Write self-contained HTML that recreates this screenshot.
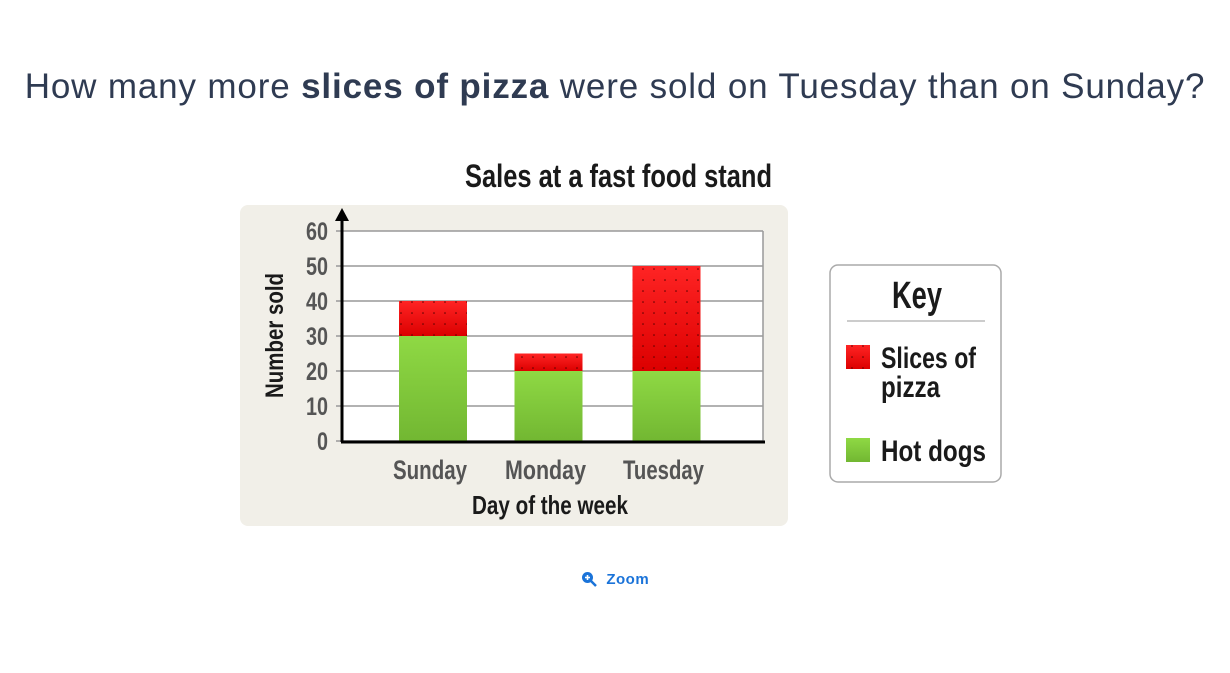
<!DOCTYPE html>
<html><head><meta charset="utf-8">
<style>
body{margin:0;width:1230px;height:673px;background:#fff;position:relative;overflow:hidden;font-family:"Liberation Sans",sans-serif}
.q{position:absolute;left:0;width:1230px;top:67px;text-align:center;font-size:35px;color:#2f3b52;letter-spacing:0.85px;white-space:nowrap}
.n{font-family:"Liberation Sans",sans-serif;font-weight:bold}
</style></head><body>
<div class="q">How many more <b>slices of pizza</b> were sold on Tuesday than on Sunday?</div>
<svg width="1230" height="673" style="position:absolute;left:0;top:0">
<defs>
<linearGradient id="gr" x1="0" y1="0" x2="0" y2="1"><stop offset="0" stop-color="#8fd944"/><stop offset="1" stop-color="#72b732"/></linearGradient>
<linearGradient id="rd" x1="0" y1="0" x2="0" y2="1"><stop offset="0" stop-color="#ff2424"/><stop offset="1" stop-color="#dc0000"/></linearGradient>
<pattern id="dots" width="11" height="11" patternUnits="userSpaceOnUse"><rect width="11" height="11" fill="none"/><circle cx="5" cy="5" r="0.8" fill="#5a0000"/></pattern>
</defs>
<rect x="240" y="205" width="548" height="321" rx="8" fill="#f1efe8"/>
<text x="465" y="187" textLength="307" lengthAdjust="spacingAndGlyphs" class="n" font-size="32" fill="#1a1a1a">Sales at a fast food stand</text>
<g id="plot"></g>
<text transform="translate(283,398) rotate(-90)" textLength="125" lengthAdjust="spacingAndGlyphs" class="n" font-size="25" fill="#1a1a1a">Number sold</text>
<text x="472" y="514" textLength="156" lengthAdjust="spacingAndGlyphs" class="n" font-size="26" fill="#1a1a1a">Day of the week</text>
<g>
<rect x="830" y="265" width="171" height="217" rx="8" fill="#fff" stroke="#aaa" stroke-width="1.5"/>
<text x="892" y="308" textLength="50" lengthAdjust="spacingAndGlyphs" class="n" font-size="38" fill="#1a1a1a">Key</text>
<line x1="847" y1="321" x2="985" y2="321" stroke="#bbb" stroke-width="1.5"/>
<rect x="846" y="345" width="24" height="24" fill="url(#rd)"/>
<rect x="846" y="345" width="24" height="24" fill="url(#dots)"/>
<text x="881" y="368" textLength="95" lengthAdjust="spacingAndGlyphs" class="n" font-size="30" fill="#1a1a1a">Slices of</text>
<text x="881" y="397" textLength="59" lengthAdjust="spacingAndGlyphs" class="n" font-size="30" fill="#1a1a1a">pizza</text>
<rect x="846" y="438" width="24" height="24" fill="url(#gr)"/>
<text x="881" y="461" textLength="105" lengthAdjust="spacingAndGlyphs" class="n" font-size="30" fill="#1a1a1a">Hot dogs</text>
</g>
</svg>
<div style="position:absolute;left:581px;top:571px;color:#1a73d9;font-size:15px;font-weight:bold;letter-spacing:0.5px"><svg width="16" height="16" style="vertical-align:-3px"><circle cx="6.5" cy="6.5" r="5.5" fill="#1a73d9"/><line x1="10" y1="10" x2="15" y2="15" stroke="#1a73d9" stroke-width="2.5"/><line x1="4" y1="6.5" x2="9" y2="6.5" stroke="#fff" stroke-width="1.6"/><line x1="6.5" y1="4" x2="6.5" y2="9" stroke="#fff" stroke-width="1.6"/></svg>&nbsp; Zoom</div>
<script>
const categories=["Sunday","Monday","Tuesday"];
const hotDogs=[30,20,20];
const pizza=[10,5,30];
const yTicks=[0,10,20,30,40,50,60];
const NS="http://www.w3.org/2000/svg";
const g=document.getElementById('plot');
const x0=342,x1=763,yTop=231,yBot=441,yMax=60;
const y=v=>yBot-(v/yMax)*(yBot-yTop);
const centers=[433,548.5,666.5];
const labelW=[74,81,81];
const bw=68;
function mk(t,a){const e=document.createElementNS(NS,t);for(const k in a)e.setAttribute(k,a[k]);g.appendChild(e);return e;}
mk('rect',{x:x0,y:yTop,width:x1-x0,height:yBot-yTop,fill:'#fff'});
yTicks.forEach(v=>{
 const l=mk('line',{x1:x0-6,x2:x1,y1:y(v),y2:y(v),stroke:'#999','stroke-width':1.5});
 
 
 const s=String(v);
 const t=mk('text',{x:x0-14-11*s.length,y:y(v)+9,textLength:11*s.length,lengthAdjust:'spacingAndGlyphs','font-size':25,fill:'#555',class:'n'});
 t.textContent=s;
 
 
});
mk('line',{x1:x1,x2:x1,y1:yTop,y2:yBot,stroke:'#999','stroke-width':1.5});
categories.forEach((c,i)=>{
 const cx=centers[i];
 const h=mk('rect',{x:cx-bw/2,y:y(hotDogs[i]),width:bw,height:yBot-y(hotDogs[i]),fill:'url(#gr)'});
 
 
 const top=hotDogs[i]+pizza[i];
 const p=mk('rect',{x:cx-bw/2,y:y(top),width:bw,height:y(hotDogs[i])-y(top),fill:'url(#rd)'});
 
 
 mk('rect',{x:cx-bw/2,y:y(top),width:bw,height:y(hotDogs[i])-y(top),fill:'url(#dots)'});
 const t=mk('text',{x:cx-3-labelW[i]/2,y:479,textLength:labelW[i],lengthAdjust:'spacingAndGlyphs','font-size':27,fill:'#555',class:'n'});
 t.textContent=c;
 
 
});
mk('line',{x1:x0,x2:x0,y1:yBot+1,y2:yTop-14,stroke:'#000','stroke-width':3});
mk('line',{x1:x0-1,x2:x1+2,y1:yBot+1,y2:yBot+1,stroke:'#000','stroke-width':3});
mk('polygon',{points:`${x0-7},${yTop-10} ${x0+7},${yTop-10} ${x0},${yTop-23}`,fill:'#000'});
</script>
</body></html>
